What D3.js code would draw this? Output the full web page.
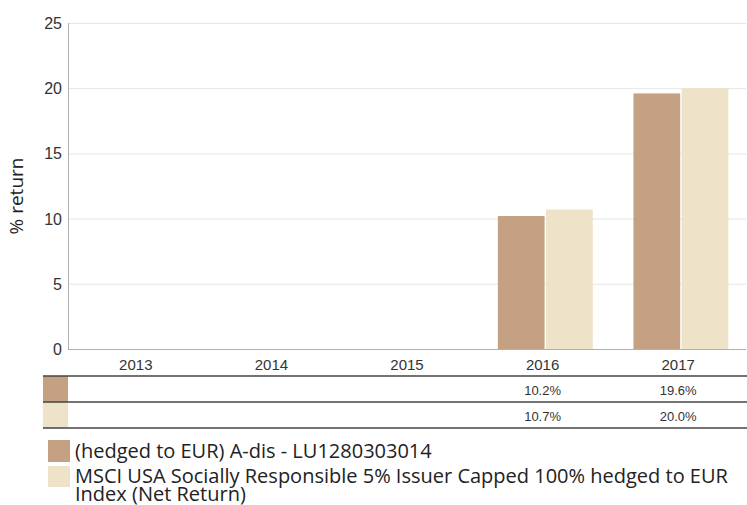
<!DOCTYPE html>
<html>
<head>
<meta charset="utf-8">
<script src="https://cdn.jsdelivr.net/npm/d3@7"></script>
<style>
  body { margin: 0; background: #fff; }
  svg { display: block; }
</style>
</head>
<body>
<svg id="chart" width="747" height="505"></svg>
<script>
// data
const years = ['2013', '2014', '2015', '2016', '2017'];
const seriesNames = [
  '(hedged to EUR) A-dis - LU1280303014',
  'MSCI USA Socially Responsible 5% Issuer Capped 100% hedged to EUR',
  'Index (Net Return)'
];
const fundValues = [null, null, null, 10.2, 19.6];
const indexValues = [null, null, null, 10.7, 20.0];
const seriesColors = ['#c3a182', '#eee3c8'];
const yTicks = [0, 5, 10, 15, 20, 25];

const svg = d3.select('#chart');
const m = { left: 68, right: 746, top: 23, bottom: 349 };

const x = d3.scaleBand().domain(years).range([m.left, m.right]);
const y = d3.scaleLinear().domain([0, 25]).range([m.bottom, m.top]);
// two bars inside each year band
const xs = d3.scaleBand().domain([0, 1])
  .range([x.bandwidth() * 0.17, x.bandwidth() * 0.87])
  .paddingInner(0.03);

// grid
svg.append('g')
  .selectAll('line')
  .data(yTicks.filter(d => d > 0))
  .join('line')
  .attr('x1', m.left).attr('x2', m.right)
  .attr('y1', d => y(d) + 0.5).attr('y2', d => y(d) + 0.5)
  .attr('stroke', '#e6e6e6').attr('stroke-width', 1);

// y axis labels
svg.append('g')
  .selectAll('text')
  .data(yTicks)
  .join('text')
  .attr('x', 62)
  .attr('y', d => y(d) + 6)
  .attr('text-anchor', 'end')
  .attr('font-family', 'Liberation Sans, Arial, sans-serif')
  .attr('font-size', 16)
  .attr('fill', '#333')
  .text(d => d);

svg.append('text')
  .attr('transform', `translate(23,${(m.top + m.bottom) / 2 + 10}) rotate(-90)`)
  .attr('text-anchor', 'middle')
  .attr('font-family', 'Open Sans, sans-serif')
  .attr('font-size', 19)
  .attr('fill', '#222')
  .text('% return');

// bars
const series = [fundValues, indexValues];
series.forEach((vals, si) => {
  svg.append('g')
    .selectAll('rect')
    .data(years.map((yr, i) => ({ yr, v: vals[i] })).filter(d => d.v != null))
    .join('rect')
    .attr('x', d => x(d.yr) + xs(si))
    .attr('width', xs.bandwidth())
    .attr('y', d => y(d.v))
    .attr('height', d => y(0) - y(d.v))
    .attr('fill', seriesColors[si]);
});

// axes lines
svg.append('line')
  .attr('x1', m.left + 0.5).attr('x2', m.left + 0.5)
  .attr('y1', m.top).attr('y2', m.bottom)
  .attr('stroke', '#b0b0b0');
svg.append('line')
  .attr('x1', m.left).attr('x2', m.right)
  .attr('y1', m.bottom + 0.5).attr('y2', m.bottom + 0.5)
  .attr('stroke', '#b0b0b0');

// category labels
svg.append('g')
  .selectAll('text')
  .data(years)
  .join('text')
  .attr('x', d => x(d) + x.bandwidth() / 2)
  .attr('y', 370)
  .attr('text-anchor', 'middle')
  .attr('font-family', 'Liberation Sans, Arial, sans-serif')
  .attr('font-size', 15)
  .attr('fill', '#333')
  .text(d => d);

// table
const rowTop = [376, 402];
const rowH = 26;
series.forEach((vals, si) => {
  svg.append('rect')
    .attr('x', 43).attr('y', rowTop[si])
    .attr('width', 25).attr('height', rowH)
    .attr('fill', seriesColors[si]);
  svg.append('g')
    .selectAll('text')
    .data(years.map((yr, i) => ({ yr, v: vals[i] })).filter(d => d.v != null))
    .join('text')
    .attr('x', d => x(d.yr) + x.bandwidth() / 2)
    .attr('y', rowTop[si] + 19)
    .attr('text-anchor', 'middle')
    .attr('font-family', 'Liberation Sans, Arial, sans-serif')
    .attr('font-size', 13)
    .attr('fill', '#333')
    .text(d => d.v.toFixed(1) + '%');
});
[376, 402, 428].forEach(ly => {
  svg.append('line')
    .attr('x1', 43).attr('x2', 747)
    .attr('y1', ly).attr('y2', ly)
    .attr('stroke', '#444').attr('stroke-width', 1.6);
});

// legend
const legend = svg.append('g');
legend.append('rect').attr('x', 48).attr('y', 440).attr('width', 22).attr('height', 22).attr('fill', seriesColors[0]);
legend.append('rect').attr('x', 48).attr('y', 466).attr('width', 22).attr('height', 21).attr('fill', seriesColors[1]);
legend.append('text')
  .attr('x', 75).attr('y', 458)
  .attr('font-family', 'Open Sans, sans-serif')
  .attr('font-size', 20)
  .attr('fill', '#222')
  .text(seriesNames[0]);
legend.append('text')
  .attr('x', 75).attr('y', 483)
  .attr('font-family', 'Open Sans, sans-serif')
  .attr('font-size', 20)
  .attr('fill', '#222')
  .text(seriesNames[1]);
legend.append('text')
  .attr('x', 75).attr('y', 501)
  .attr('font-family', 'Open Sans, sans-serif')
  .attr('font-size', 20)
  .attr('fill', '#222')
  .text(seriesNames[2]);
</script>
</body>
</html>
